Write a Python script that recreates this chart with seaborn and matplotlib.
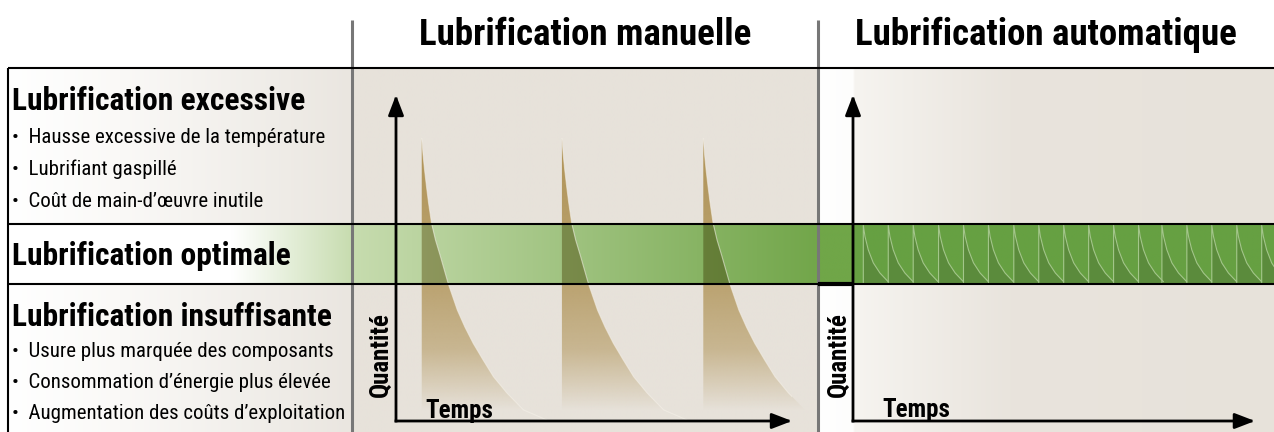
import numpy as np
import pandas as pd
import matplotlib
matplotlib.use("Agg")
import matplotlib.pyplot as plt
import seaborn as sns
from matplotlib import font_manager as fm

# ---------------- data ----------------
panel_titles = ["Lubrification manuelle", "Lubrification automatique"]
row_titles = ["Lubrification excessive", "Lubrification optimale", "Lubrification insuffisante"]
excess_points = ["Hausse excessive de la température", "Lubrifiant gaspillé",
                 "Coût de main-d’œuvre inutile"]
insufficient_points = ["Usure plus marquée des composants", "Consommation d’énergie plus élevée",
                       "Augmentation des coûts d’exploitation"]
x_label = "Temps"
y_label = "Quantité"

# quantity on a 0-100 scale, time on a 0-100 scale
optimal_q = [42.0, 60.4]
manual_refill_t = [6.5, 41.9, 77.6]
manual_decay_dt = [0, 0.33, 0.71, 1.21, 1.72, 2.47, 3.48, 4.62, 6.72, 8.99, 10.9, 13.0, 15.5, 18.1, 21.5, 25.7, 31.6]
manual_decay_q = [86.7, 81.6, 77.0, 71.8, 66.9, 60.7, 55.5, 50.9, 42.0, 34.0, 28.8, 23.8, 18.7, 13.6, 8.6, 3.4, 0.3]
auto_refill_t = [2.6, 8.9, 15.2, 21.6, 27.9, 34.2, 40.6, 46.9, 53.2, 59.5, 65.8, 72.1, 78.0, 84.3, 90.6, 96.9, 103.2]
auto_decay_dt = [0, 0.43, 1.26, 2.53, 4.2, 6.3]
auto_decay_q = [60.1, 56.6, 52.5, 48.5, 45.4, 42.7]

# ---------------- style ----------------
sns.set_theme(style="white")
names = {f.name for f in fm.fontManager.ttflist}
if "Liberation Sans Narrow" in names:
    FONT, K = ["Liberation Sans Narrow", "DejaVu Sans"], 1.0
elif "Roboto Condensed" in names:
    FONT, K = ["Roboto Condensed", "DejaVu Sans"], 1.0
else:
    FONT, K = ["Roboto", "DejaVu Sans"], 0.84
plt.rcParams["font.family"] = FONT
plt.rcParams["text.color"] = "black"

W, H = 1274, 432
PX_T, PX_Q = 3.96, 3.26
OX_M, OX_A, OY = 396, 853, 421
X_LEFT, X_MAN, X_AUTO, Y_HEAD = 8, 352, 818, 68


def qpx(q):
    return OY - q * PX_Q


y_hi, y_lo = qpx(optimal_q[1]), qpx(optimal_q[0])

fig = plt.figure(figsize=(W / 100, H / 100), dpi=100, facecolor="white")
bg = fig.add_axes([0, 0, 1, 1], zorder=0)
axm = fig.add_axes([OX_M / W, (H - OY) / H, 100 * PX_T / W, 100 * PX_Q / H], zorder=1)
axa = fig.add_axes([OX_A / W, (H - OY) / H, (W - OX_A) / W, 100 * PX_Q / H], zorder=1)
fg = fig.add_axes([0, 0, 1, 1], zorder=2)
for a in (bg, fg, axm, axa):
    a.axis("off")
axm.set_xlim(0, 100)
axm.set_ylim(0, 100)
axa.set_xlim(0, (W - OX_A) / PX_T)
axa.set_ylim(0, 100)


def hgrad(ax, x0, x1, y0, y1, xs, cols, z, factor=(1, 1, 1)):
    n = 500
    xx = np.linspace(x0, x1, n)
    c = np.array(cols, dtype=float) / 255.0
    rgb = np.stack([np.interp(xx, xs, c[:, i]) * factor[i] for i in range(3)], axis=-1)
    img = np.concatenate([rgb, np.ones((n, 1))], axis=1)[None, :, :]
    return ax.imshow(img, extent=(x0, x1, y1, y0), aspect="auto",
                     interpolation="bilinear", zorder=z)


BEIGE = (231, 226, 218)
# left column rows
hgrad(bg, X_LEFT, X_MAN, Y_HEAD, H, [X_LEFT, 120, X_MAN],
      [(255, 255, 255), (250, 249, 247), (234, 230, 224)], 1)
# manual panel
hgrad(bg, X_MAN, X_AUTO, Y_HEAD, H, [X_MAN, X_AUTO], [BEIGE, BEIGE], 1)
# auto panel
hgrad(bg, X_AUTO, W, Y_HEAD, H, [X_AUTO, 853, 854, 1010, W],
      [(255, 255, 255), (253, 253, 252), (246, 244, 240), (233, 228, 221), BEIGE], 1)

# manual refill curves -> tan gradient fills
q_rows = np.linspace(qpx(100), OY, 300)
q_vals = (OY - q_rows) / PX_Q
alpha = np.interp(q_vals, [3, 10, 22, 40, 87, 100], [0, 0.2, 0.52, 0.73, 0.95, 0.95])
tan = np.zeros((len(q_rows), 1, 4))
tan[:, 0, :3] = np.array([172, 142, 78]) / 255.0
tan[:, 0, 3] = alpha

manual_rows = []
overlap_paths = []
for i, t0 in enumerate(manual_refill_t):
    t = np.array(manual_decay_dt) + t0
    q = np.array(manual_decay_q)
    poly = axm.fill_between(t, 0, q, lw=0)
    poly.set_visible(False)
    im = bg.imshow(tan, extent=(X_MAN, X_AUTO, OY, qpx(100)), aspect="auto",
                   interpolation="bilinear", zorder=2)
    im.set_clip_path(poly.get_paths()[0], transform=axm.transData)
    ov = axm.fill_between(t, optimal_q[0], np.clip(q, *optimal_q), lw=0)
    ov.set_visible(False)
    overlap_paths.append(ov.get_paths()[0])
    for tt, qq in zip(t, q):
        manual_rows.append({"t": tt, "q": qq, "cycle": i})

# optimal band
band_xs = [X_LEFT, 232, X_MAN, X_AUTO]
band_cols = [(255, 255, 255), (255, 255, 255), (199, 220, 175), (114, 166, 74)]
hgrad(bg, X_LEFT, X_AUTO, y_hi, y_lo, band_xs, band_cols, 3)
hgrad(bg, X_AUTO, OX_A, y_hi, y_lo, [X_AUTO, OX_A], [(112, 166, 72), (112, 166, 72)], 3)
hgrad(bg, OX_A, W, y_hi, y_lo, [OX_A, W], [(102, 160, 66), (102, 160, 66)], 3)
for p in overlap_paths:
    im = hgrad(bg, X_LEFT, X_AUTO, y_hi, y_lo, band_xs, band_cols, 4, factor=(0.76, 0.71, 0.58))
    im.set_clip_path(p, transform=axm.transData)

bg.set_xlim(0, W)
bg.set_ylim(H, 0)

# faint light edge along the manual curves
sns.lineplot(data=pd.DataFrame(manual_rows), x="t", y="q", units="cycle", estimator=None,
             sort=False, color="#f6f2ea", lw=0.8, alpha=0.55, legend=False, ax=axm)

# automatic lubrication: small frequent doses inside the optimal band
auto_rows = []
for i, t0 in enumerate(auto_refill_t):
    t = np.array(auto_decay_dt) + t0
    q = np.array(auto_decay_q)
    axa.fill_between(t, optimal_q[0], q, color="#5b8b3c", lw=0, zorder=2)
    auto_rows.append({"t": t0, "q": optimal_q[0], "cycle": i})
    for tt, qq in zip(t, q):
        auto_rows.append({"t": tt, "q": qq, "cycle": i})
sns.lineplot(data=pd.DataFrame(auto_rows), x="t", y="q", units="cycle", estimator=None,
             sort=False, color="#a3c68a", lw=0.8, legend=False, ax=axa, zorder=3)
axa.set_xlim(0, (W - OX_A) / PX_T)
axa.set_ylim(0, 100)
axm.set_xlim(0, 100)
axm.set_ylim(0, 100)
for a in (axm, axa):
    a.set_xlabel("")
    a.set_ylabel("")

# chart axes arrows
arrow = dict(arrowstyle="-|>,head_length=0.61,head_width=0.235", color="black", lw=2.0,
             shrinkA=0, shrinkB=0, mutation_scale=20, capstyle="projecting")
axm.annotate("", xy=(0, 100), xytext=(0, 0), arrowprops=arrow, annotation_clip=False)
axm.annotate("", xy=(100, 0), xytext=(0, 0), arrowprops=arrow, annotation_clip=False)
axa.annotate("", xy=(0, 100), xytext=(0, 0), arrowprops=arrow, annotation_clip=False)
axa.annotate("", xy=(101.5, 0), xytext=(0, 0), arrowprops=arrow, annotation_clip=False)

# ---------------- frame lines ----------------
fg.set_xlim(0, W)
fg.set_ylim(H, 0)
fg.plot([X_MAN, X_MAN], [20, H], color="#777777", lw=2.2, solid_capstyle="butt")
fg.plot([X_AUTO, X_AUTO], [20, H], color="#777777", lw=2.2, solid_capstyle="butt")
for yy in (Y_HEAD, y_hi, y_lo):
    fg.plot([X_LEFT, W], [yy, yy], color="black", lw=1.5, solid_capstyle="butt")
fg.plot([X_LEFT, X_LEFT], [Y_HEAD, H], color="black", lw=1.5, solid_capstyle="butt")
fg.plot([X_AUTO, OX_A], [y_lo, y_lo], color="black", lw=3.0, solid_capstyle="butt")

# ---------------- texts ----------------
fg.text((X_MAN + X_AUTO) / 2, 45, panel_titles[0], ha="center", va="baseline",
        fontsize=26.6 * K, fontweight="bold")
fg.text((X_AUTO + W) / 2, 45, panel_titles[1], ha="center", va="baseline",
        fontsize=26.6 * K, fontweight="bold")

fg.text(12, 110, row_titles[0], fontsize=22.7 * K, fontweight="bold", va="baseline")
fg.text(12, 265, row_titles[1], fontsize=22.7 * K, fontweight="bold", va="baseline")
fg.text(12, 326, row_titles[2], fontsize=22.7 * K, fontweight="bold", va="baseline")
for base, txt in zip([143, 175, 207], excess_points):
    fg.text(12, base, "•  " + txt, fontsize=15.0 * K, va="baseline")
for base, txt in zip([357, 388, 419], insufficient_points):
    fg.text(12, base, "•  " + txt, fontsize=15.0 * K, va="baseline")

fg.text(381, 355, y_label, rotation=90, ha="center", va="center", fontsize=18 * K, fontweight="bold")
fg.text(425, 418, x_label, ha="left", va="baseline", fontsize=18 * K, fontweight="bold")
fg.text(839, 355, y_label, rotation=90, ha="center", va="center", fontsize=18 * K, fontweight="bold")
fg.text(882, 417, x_label, ha="left", va="baseline", fontsize=18 * K, fontweight="bold")

fig.savefig("out.png", dpi=100, facecolor="white")
